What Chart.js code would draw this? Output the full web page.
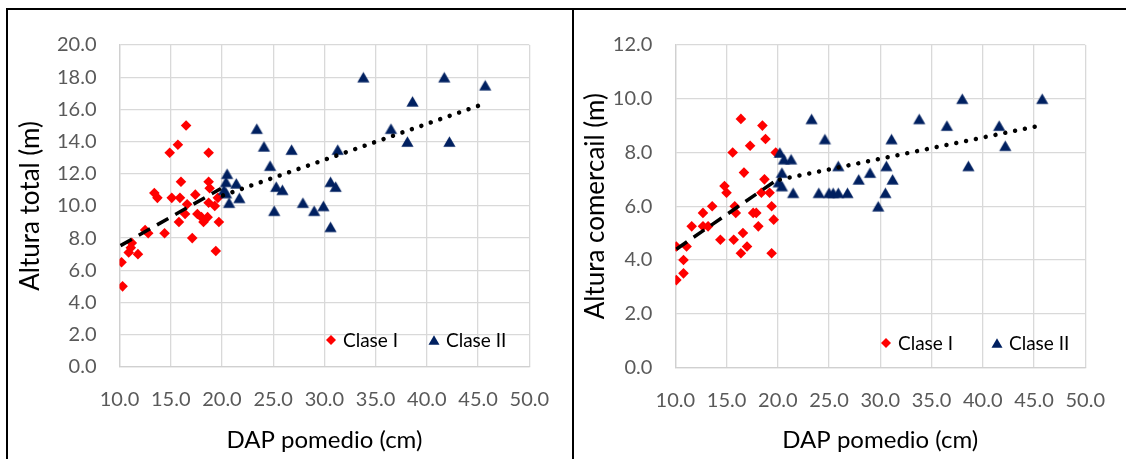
<!DOCTYPE html>
<html>
<head>
<meta charset="utf-8">
<script src="https://cdn.jsdelivr.net/npm/chart.js@4.4.1/dist/chart.umd.min.js"></script>
<style>
  html, body { margin: 0; padding: 0; background: #fff; }
  #page { position: relative; width: 1126px; height: 459px; overflow: hidden; background: #fff; }
  .rule { position: absolute; background: #000; }
  .panel { position: absolute; }
</style>
</head>
<body>
<div id="page">
  <div class="rule" style="left:6px;top:8px;width:1120px;height:2px"></div>
  <div class="rule" style="left:6px;top:8px;width:2px;height:451px"></div>
  <div class="rule" style="left:572px;top:8px;width:2px;height:451px"></div>
  <div class="panel" style="left:8px;top:10px;width:564px;height:449px"><canvas id="chartTotal"></canvas></div>
  <div class="panel" style="left:574px;top:10px;width:552px;height:449px"><canvas id="chartComercial"></canvas></div>
</div>
<script>
// ---- Data: diámetro (DAP, cm) y alturas (m) por clase ----
const DAP_I_TOTAL = [10.3, 10.2, 10.9, 11.1, 11.2, 11.8, 12.5, 12.8, 14.4, 13.4, 13.7, 14.9, 15.7, 16.5, 16.0, 15.1, 15.9, 15.8, 16.4, 16.6, 17.4, 17.1, 17.6, 18.0, 18.2, 18.6, 18.7, 18.7, 18.8, 18.7, 19.3, 19.6, 19.4, 19.7];
const ALT_I_TOTAL = [5.0, 6.5, 7.1, 7.4, 7.7, 7.0, 8.5, 8.3, 8.3, 10.8, 10.5, 13.3, 13.8, 15.0, 11.5, 10.5, 10.5, 9.0, 9.5, 10.1, 10.7, 8.0, 9.5, 9.3, 9.0, 9.3, 13.3, 11.5, 11.1, 10.2, 10.0, 10.5, 7.2, 9.0];

const DAP_II_TOTAL = [20.5, 20.4, 21.4, 20.2, 20.4, 20.7, 21.7, 23.4, 24.1, 26.8, 24.7, 25.3, 25.9, 25.1, 27.9, 29.0, 29.9, 30.6, 30.6, 31.1, 31.3, 33.8, 36.5, 38.1, 38.6, 41.7, 42.2, 45.7];
const ALT_II_TOTAL = [12.0, 11.5, 11.4, 11.0, 10.8, 10.2, 10.5, 14.8, 13.7, 13.5, 12.5, 11.2, 11.0, 9.7, 10.2, 9.7, 10.0, 8.7, 11.5, 11.2, 13.5, 18.0, 14.8, 14.0, 16.5, 18.0, 14.0, 17.5];

const DAP_I_COM = [10.1, 10.8, 10.8, 10.1, 11.1, 11.6, 12.7, 13.2, 12.7, 13.6, 14.4, 14.8, 15.0, 15.7, 15.8, 15.9, 15.6, 16.4, 16.4, 16.6, 16.7, 17.0, 17.3, 17.6, 17.9, 18.1, 18.4, 18.5, 18.7, 18.8, 19.2, 19.4, 19.4, 19.6, 19.8];
const ALT_I_COM = [3.25, 3.5, 4.0, 4.5, 4.5, 5.25, 5.25, 5.25, 5.75, 6.0, 4.75, 6.75, 6.5, 4.75, 6.0, 5.75, 8.0, 9.25, 4.25, 5.0, 7.25, 4.5, 8.25, 5.75, 5.75, 5.25, 6.5, 9.0, 7.0, 8.5, 6.5, 6.0, 4.25, 5.5, 8.0];

const DAP_II_COM = [20.2, 20.6, 21.3, 20.4, 20.1, 20.4, 21.5, 23.3, 24.6, 24.0, 25.0, 25.4, 25.9, 26.8, 25.9, 27.9, 29.0, 29.8, 30.5, 30.6, 31.1, 31.2, 33.8, 36.5, 38.0, 38.6, 41.6, 42.2, 45.8];
const ALT_II_COM = [8.0, 7.75, 7.75, 7.25, 6.9, 6.75, 6.5, 9.25, 8.5, 6.5, 6.5, 6.5, 6.5, 6.5, 7.5, 7.0, 7.25, 6.0, 6.5, 7.5, 8.5, 7.0, 9.25, 9.0, 10.0, 7.5, 9.0, 8.25, 10.0];

// Linear trend lines (end points)
const TREND_I_TOTAL_X = [10.1, 19.9];
const TREND_I_TOTAL_Y = [7.53, 11.08];
const TREND_II_TOTAL_X = [20.1, 45.6];
const TREND_II_TOTAL_Y = [10.65, 16.35];
const TREND_I_COM_X = [10.1, 19.8];
const TREND_I_COM_Y = [4.4, 6.95];
const TREND_II_COM_X = [20.2, 45.6];
const TREND_II_COM_Y = [6.99, 9.0];

// Axis ranges and labels
const X_AXIS = { min: 10, max: 50, step: 5 };
const Y_AXIS_TOTAL = { min: 0, max: 20, step: 2 };
const Y_AXIS_COM = { min: 0, max: 12, step: 2 };
const X_TITLE = 'DAP pomedio (cm)';
const Y_TITLE_TOTAL = 'Altura total (m)';
const Y_TITLE_COM = 'Altura comercail (m)';
const SERIES_NAMES = ['Clase I', 'Clase II'];

// ---- Styling ----
const RED = '#ff0000';
const NAVY = '#002060';
const GRID = '#d9d9d9';
const TICK_COLOR = '#595959';
const FONT = 'Lato';

const pairs = (xs, ys) => xs.map((x, i) => ({ x: x, y: ys[i] }));

function markerPath(ctx, shape, x, y, w, h) {
  ctx.beginPath();
  if (shape === 'triangle') {
    ctx.moveTo(x, y - h / 2);
    ctx.lineTo(x + w / 2, y + h / 2);
    ctx.lineTo(x - w / 2, y + h / 2);
  } else {
    ctx.moveTo(x, y - h / 2);
    ctx.lineTo(x + w / 2, y);
    ctx.lineTo(x, y + h / 2);
    ctx.lineTo(x - w / 2, y);
  }
  ctx.closePath();
}

// Marker sprite centred on its bounding box
function markerSprite(shape, w, h, color) {
  const c = document.createElement('canvas');
  c.width = Math.ceil(w) + 2;
  c.height = Math.ceil(h) + 2;
  const g = c.getContext('2d');
  g.fillStyle = color;
  markerPath(g, shape, c.width / 2, c.height / 2, w, h);
  g.fill();
  return c;
}

// Legend drawn inside the plot area
const insideLegend = {
  id: 'insideLegend',
  afterDatasetsDraw(chart, args, opts) {
    if (!opts || !opts.items) return;
    const ctx = chart.ctx;
    ctx.save();
    ctx.font = opts.fontSize + 'px ' + FONT;
    ctx.textBaseline = 'middle';
    ctx.textAlign = 'left';
    opts.items.forEach(it => {
      const ds = chart.data.datasets[it.dataset];
      ctx.fillStyle = ds.backgroundColor;
      markerPath(ctx, ds.markerShape, it.x, it.y, it.w, it.h);
      ctx.fill();
      ctx.fillStyle = opts.color;
      ctx.fillText(ds.label, it.x + it.gap, it.y + 1);
    });
    ctx.restore();
  }
};

function buildChart(canvasId, spec) {
  const area = spec.area; // plot rectangle within the canvas
  const triangle = markerSprite('triangle', 12.2, 10.6, NAVY);
  return new Chart(document.getElementById(canvasId), {
    type: 'scatter',
    data: {
      datasets: [
        {
          type: 'line', label: 'tendencia I',
          data: pairs(spec.trendIx, spec.trendIy),
          borderColor: '#000', borderWidth: 3.5, borderDash: [13, 8],
          pointRadius: 0, fill: false, tension: 0, order: 0
        },
        {
          type: 'line', label: 'tendencia II',
          data: pairs(spec.trendIIx, spec.trendIIy),
          borderColor: '#000', borderWidth: 4.5, borderDash: [0.01, 10],
          borderCapStyle: 'round',
          pointRadius: 0, fill: false, tension: 0, order: 0
        },
        {
          label: SERIES_NAMES[0], markerShape: 'diamond',
          data: pairs(spec.xI, spec.yI),
          pointStyle: 'rectRot', pointRadius: 5.3, pointHoverRadius: 5.3,
          backgroundColor: RED, borderColor: RED, borderWidth: 0, order: 2
        },
        {
          label: SERIES_NAMES[1], markerShape: 'triangle',
          data: pairs(spec.xII, spec.yII),
          pointStyle: triangle, pointRadius: 7, pointHoverRadius: 7,
          backgroundColor: NAVY, borderColor: NAVY, borderWidth: 0, order: 1
        }
      ]
    },
    options: {
      responsive: true,
      maintainAspectRatio: false,
      animation: false,
      events: [],
      layout: { padding: { left: 0, top: area.top, right: area.rightPad, bottom: 0 } },
      plugins: {
        legend: { display: false },
        tooltip: { enabled: false },
        insideLegend: spec.legend
      },
      scales: {
        x: {
          type: 'linear', min: X_AXIS.min, max: X_AXIS.max,
          ticks: {
            stepSize: X_AXIS.step, autoSkip: false, maxRotation: 0,
            callback: v => Number(v).toFixed(1),
            font: { family: FONT, size: 20 }, color: TICK_COLOR, padding: 21
          },
          grid: { color: GRID, lineWidth: 1.3, drawTicks: false },
          border: { color: '#d0d0d0', width: 1.3 },
          title: {
            display: true, text: X_TITLE, color: '#000',
            font: { family: FONT, size: 24 }, padding: { top: 0, bottom: 4.6 }
          },
          afterFit: s => { s.height = area.xHeight; }
        },
        y: {
          type: 'linear', min: spec.yAxis.min, max: spec.yAxis.max,
          ticks: {
            stepSize: spec.yAxis.step,
            callback: v => Number(v).toFixed(1),
            font: { family: FONT, size: 20 }, color: TICK_COLOR, padding: 23
          },
          grid: { color: GRID, lineWidth: 1.3, drawTicks: false },
          border: { color: '#d0d0d0', width: 1.3 },
          title: {
            display: true, text: spec.yTitle, color: '#000',
            font: { family: FONT, size: 26 }, padding: { top: spec.yTitlePad, bottom: 0 }
          },
          afterFit: s => { s.width = area.left; }
        }
      }
    },
    plugins: [insideLegend]
  });
}

function render() {
  Chart.defaults.font.family = FONT;

  buildChart('chartTotal', {
    xI: DAP_I_TOTAL, yI: ALT_I_TOTAL, xII: DAP_II_TOTAL, yII: ALT_II_TOTAL,
    trendIx: TREND_I_TOTAL_X, trendIy: TREND_I_TOTAL_Y,
    trendIIx: TREND_II_TOTAL_X, trendIIy: TREND_II_TOTAL_Y,
    yAxis: Y_AXIS_TOTAL, yTitle: Y_TITLE_TOTAL, yTitlePad: 7,
    area: { left: 111.5, top: 32.5, rightPad: 42.7, xHeight: 92.2 },
    legend: {
      fontSize: 19, color: '#000',
      items: [
        { dataset: 2, x: 323, y: 330, w: 10, h: 10, gap: 12 },
        { dataset: 3, x: 426, y: 330, w: 11, h: 9.5, gap: 12 }
      ]
    }
  });

  buildChart('chartComercial', {
    xI: DAP_I_COM, yI: ALT_I_COM, xII: DAP_II_COM, yII: ALT_II_COM,
    trendIx: TREND_I_COM_X, trendIy: TREND_I_COM_Y,
    trendIIx: TREND_II_COM_X, trendIIy: TREND_II_COM_Y,
    yAxis: Y_AXIS_COM, yTitle: Y_TITLE_COM, yTitlePad: 6.4,
    area: { left: 101.3, top: 29, rightPad: 29.3, xHeight: 91.6 },
    legend: {
      fontSize: 19, color: '#000',
      items: [
        { dataset: 2, x: 312, y: 333, w: 10, h: 10, gap: 12 },
        { dataset: 3, x: 423, y: 333, w: 11, h: 9.5, gap: 12 }
      ]
    }
  });
}

if (document.fonts && document.fonts.load) {
  Promise.all([
    document.fonts.load('20px Lato'),
    document.fonts.load('26px Lato')
  ]).then(render, render);
} else {
  render();
}
</script>
</body>
</html>
